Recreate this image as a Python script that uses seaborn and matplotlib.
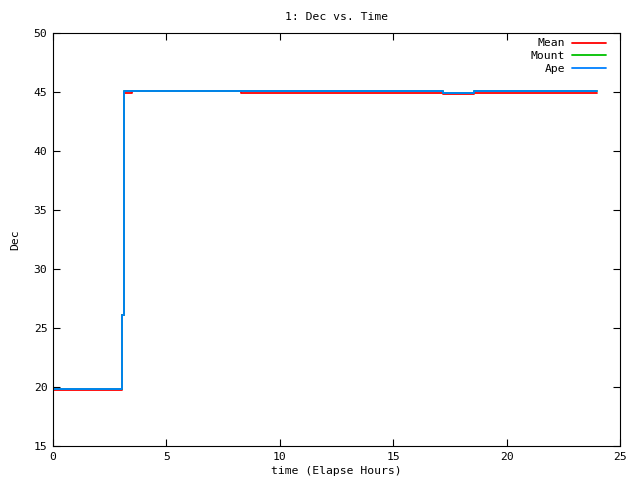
import numpy as np
import pandas as pd
import seaborn as sns
import matplotlib
matplotlib.use("Agg")
import matplotlib.pyplot as plt

# Step data (value holds until the next time)
time_hours = [0, 3.05, 3.13, 3.5, 8.3, 17.2, 18.55, 24]
mean_dec = [19.75, 26.1, 44.95, 45.05, 44.95, 44.85, 44.95, 44.95]
mount_dec = [19.8, 26.1, 45.05, 45.05, 45.05, 44.9, 45.05, 45.05]
ape_dec = [19.83, 26.1, 45.12, 45.12, 45.12, 44.92, 45.12, 45.12]

series_names = ["Mean", "Mount", "Ape"]
series_colors = ["#ff0000", "#00c000", "#0080ff"]

df = pd.concat([
    pd.DataFrame({"time": time_hours, "dec": vals, "series": name})
    for name, vals in zip(series_names, [mean_dec, mount_dec, ape_dec])
])

sns.set_style("ticks", {"text.color": "black", "axes.labelcolor": "black",
                        "xtick.color": "black", "ytick.color": "black",
                        "axes.edgecolor": "black"})
plt.rcParams['font.family'] = ['DejaVu Sans Mono']
fs = 8.2

fig = plt.figure(figsize=(6.4, 4.8), dpi=100)
ax = fig.add_axes([53 / 640, 34 / 480, 567 / 640, 413 / 480])

sns.lineplot(data=df, x="time", y="dec", hue="series", hue_order=series_names,
             palette=series_colors, drawstyle="steps-post", linewidth=1.3,
             ax=ax, estimator=None, sort=False)

ax.set_xlim(0, 25)
ax.set_ylim(15, 50)
ax.set_xticks(np.arange(0, 26, 5))
ax.set_yticks(np.arange(15, 51, 5))
ax.tick_params(direction="in", top=True, right=True, length=5, width=0.8,
               labelsize=fs, pad=4)
for sp in ax.spines.values():
    sp.set_linewidth(0.8)

ax.set_title("1: Dec vs. Time", fontsize=fs, pad=9)
ax.set_xlabel("time (Elapse Hours)", fontsize=fs, labelpad=3)
ax.set_ylabel("Dec", fontsize=fs, labelpad=10)

leg = ax.legend(loc="upper right", bbox_to_anchor=(0.9894, 1.006),
                frameon=False, markerfirst=False, fontsize=fs,
                handlelength=3.0, handletextpad=0.6, labelspacing=0.22,
                borderaxespad=0.3, title=None)

fig.savefig("out.png", dpi=100)
